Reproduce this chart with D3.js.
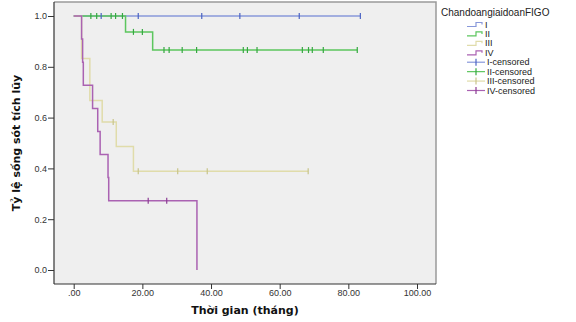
<!DOCTYPE html>
<html>
<head>
<meta charset="utf-8">
<script src="https://cdn.jsdelivr.net/npm/d3@7"></script>
<style>
  body { margin: 0; background: #fff; }
  svg { display: block; }
</style>
</head>
<body>
<svg id="chart" width="576" height="322"></svg>
<script>
// step curves (time in months, cumulative survival)
const timesI = [0];
const survI = [1];
const censI = [8.0, 18.8, 37.3, 48.4, 65.7, 83.5];

const timesII = [0, 15.1, 23.0];
const survII = [1, 0.9375, 0.866];
const censII = [5.0, 6.7, 10.9, 12.2, 14.2, 17.4, 20.0, 26.3, 27.8, 31.6, 35.8,
  49.4, 50.6, 53.4, 66.6, 68.4, 69.5, 72.7, 82.6];

const timesIII = [0, 2.3, 4.7, 8.3, 12.4, 17.4];
const survIII = [1, 0.833, 0.667, 0.583, 0.486, 0.389];
const censIII = [11.5, 18.8, 30.3, 38.9, 68.3];

const timesIV = [0, 2.3, 2.6, 2.8, 5.5, 7.0, 7.7, 10.0, 10.2, 35.9];
const survIV = [1, 0.909, 0.818, 0.727, 0.636, 0.545, 0.455, 0.364, 0.273, 0];
const censIV = [21.7, 27.1];

const groupNames = ['I', 'II', 'III', 'IV'];
const lineColors = ['#8898da', '#5cc65e', '#e0dcaa', '#aa62b2'];
const markColors = ['#4c64c4', '#34a840', '#c8c48a', '#8c3c94'];

const xTicks = [0, 20, 40, 60, 80, 100];
const yTicks = [0, 0.2, 0.4, 0.6, 0.8, 1.0];

const groups = [
  { t: timesI, s: survI, c: censI },
  { t: timesII, s: survII, c: censII },
  { t: timesIII, s: survIII, c: censIII },
  { t: timesIV, s: survIV, c: censIV }
];

const svg = d3.select('#chart');
const frame = { left: 54, right: 436, top: 2, bottom: 284 };

const x = d3.scaleLinear().domain([0, 100]).range([73.7, 417]);
const y = d3.scaleLinear().domain([0, 1]).range([270, 16]);

svg.append('rect')
  .attr('x', frame.left).attr('y', frame.top)
  .attr('width', frame.right - frame.left).attr('height', frame.bottom - frame.top)
  .attr('fill', '#efefef');

// top and right frame
svg.append('path')
  .attr('d', `M${frame.left},${frame.top}H${frame.right}V${frame.bottom}`)
  .attr('fill', 'none').attr('stroke', '#9a9a9a').attr('stroke-width', 1.5);

// axes
const xAxis = svg.append('g')
  .attr('transform', `translate(0,${frame.bottom})`)
  .call(d3.axisBottom(x).tickValues(xTicks).tickSize(5).tickSizeOuter(0).tickFormat(d => d === 0 ? '.00' : d3.format('.2f')(d)));
xAxis.select('.domain').attr('d', `M${frame.left},0H${frame.right}`);

const yAxis = svg.append('g')
  .attr('transform', `translate(${frame.left},0)`)
  .call(d3.axisLeft(y).tickValues(yTicks).tickSize(6).tickSizeOuter(0).tickFormat(d3.format('.1f')));
yAxis.select('.domain').attr('d', `M0,${frame.top}V${frame.bottom}`);

svg.selectAll('.domain').attr('stroke', '#333').attr('stroke-width', 1.2);
svg.selectAll('.tick line').attr('stroke', '#333');
svg.selectAll('.tick text')
  .attr('font-family', 'Liberation Sans, Arial, sans-serif')
  .attr('font-size', 9).attr('fill', '#333');
yAxis.selectAll('.tick text').attr('x', -7);
xAxis.selectAll('.tick text').attr('y', 6);

// axis titles
svg.append('text')
  .attr('x', 245).attr('y', 314)
  .attr('text-anchor', 'middle')
  .attr('font-family', 'DejaVu Sans, Verdana, sans-serif')
  .attr('font-weight', 'bold').attr('font-size', 11).attr('fill', '#111')
  .text('Thời gian (tháng)');

svg.append('text')
  .attr('transform', `translate(20,143) rotate(-90)`)
  .attr('text-anchor', 'middle')
  .attr('font-family', 'DejaVu Sans, Verdana, sans-serif')
  .attr('font-weight', 'bold').attr('font-size', 11).attr('fill', '#111')
  .text('Tỷ lệ sống sót tích lũy');

function stepPoints(g) {
  const end = Math.max(g.t[g.t.length - 1], d3.max(g.c));
  const pts = g.t.map((t, i) => [t, g.s[i]]);
  if (end > g.t[g.t.length - 1]) pts.push([end, g.s[g.s.length - 1]]);
  return pts;
}
function survAt(g, t) {
  const i = d3.bisectRight(g.t, t) - 1;
  return g.s[Math.max(0, i)];
}

const line = d3.line().x(d => x(d[0])).y(d => y(d[1])).curve(d3.curveStepAfter);

groups.forEach((g, i) => {
  svg.append('path')
    .attr('d', line(stepPoints(g)))
    .attr('fill', 'none')
    .attr('stroke', lineColors[i])
    .attr('stroke-width', 1.5);
});

groups.forEach((g, i) => {
  svg.append('g').selectAll('line')
    .data(g.c)
    .join('line')
    .attr('x1', d => x(d)).attr('x2', d => x(d))
    .attr('y1', d => y(survAt(g, d)) - 3)
    .attr('y2', d => y(survAt(g, d)) + 3)
    .attr('stroke', markColors[i])
    .attr('stroke-width', 1.2);
});

// legend
const legend = svg.append('g')
  .attr('font-family', 'Liberation Sans, Arial, sans-serif')
  .attr('font-size', 9).attr('fill', '#222');

legend.append('text')
  .attr('x', 441).attr('y', 15.5)
  .attr('font-size', 10)
  .text('ChandoangiaidoanFIGO');

const legendY = d3.scaleLinear().domain([0, 7]).range([24.5, 90.5]);

groupNames.forEach((name, i) => {
  const cy = legendY(i);
  legend.append('path')
    .attr('d', `M467,${cy + 2}H476V${cy - 2}H482V${cy}`)
    .attr('fill', 'none').attr('stroke', lineColors[i]).attr('stroke-width', 1.2);
  legend.append('text').attr('x', 485).attr('y', cy + 3).text(name);
});

groupNames.forEach((name, i) => {
  const cy = legendY(i + 4);
  legend.append('line')
    .attr('x1', 467).attr('x2', 485).attr('y1', cy).attr('y2', cy)
    .attr('stroke', lineColors[i]).attr('stroke-width', 1.2);
  legend.append('line')
    .attr('x1', 476).attr('x2', 476).attr('y1', cy - 3.5).attr('y2', cy + 3.5)
    .attr('stroke', markColors[i]).attr('stroke-width', 1.2);
  legend.append('text').attr('x', 487).attr('y', cy + 3).text(name + '-censored');
});
</script>
</body>
</html>
